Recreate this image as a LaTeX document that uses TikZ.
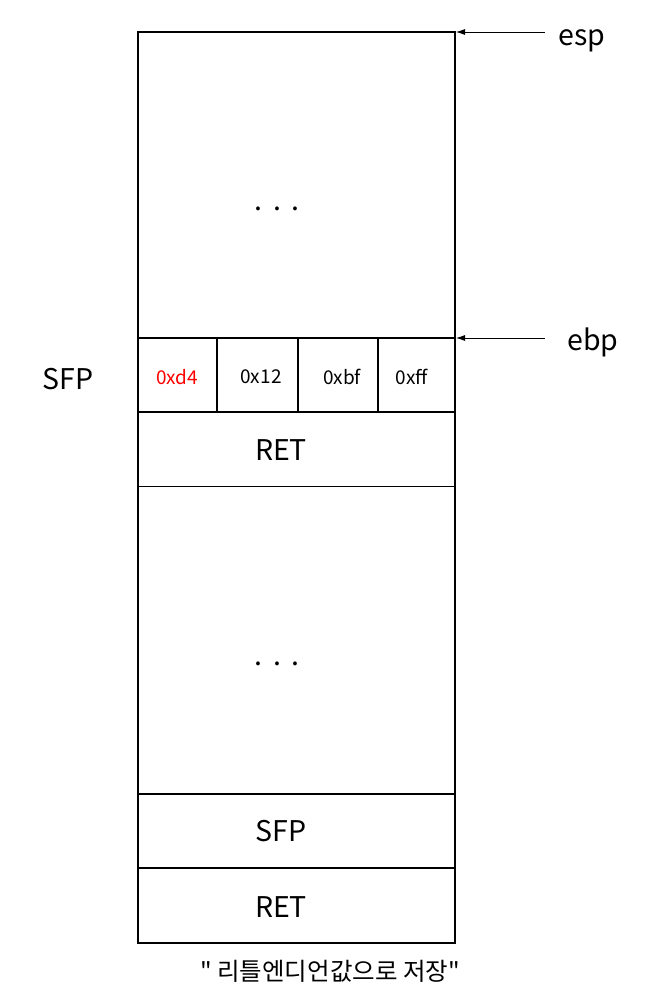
\documentclass[tikz,border=0pt]{standalone}
\usepackage{fontspec}
\setmainfont{Noto Sans CJK KR}
\newfontfamily\capfont{Noto Sans CJK KR}
\usetikzlibrary{arrows.meta}
\begin{document}
\begin{tikzpicture}[x=1pt,y=-1pt,
  box/.style={draw,line width=1.3pt,inner sep=0pt},
  big/.style={font=\fontsize{28.5}{32}\selectfont},
  small/.style={font=\fontsize{19}{22}\selectfont},
  ptr/.style={-{Latex[length=9pt,width=6pt]},line width=0.8pt}]
\useasboundingbox (0,0) rectangle (662,993);
% outer stack
\draw[box] (138,32) rectangle (455,943);
\node[box,minimum width=317pt,minimum height=74pt] (ret1) at (296.5,449.5) {};
\node[big] at (281,450) {RET};
\node[box,minimum width=317pt,minimum height=74pt] (sfp2) at (296.5,831) {};
\node[big] at (281,831) {SFP};
\node[box,minimum width=317pt,minimum height=75pt] (ret2) at (296.5,905.5) {};
\node[big] at (281,907) {RET};
% SFP bytes
\node[box,minimum width=79pt,minimum height=74pt] (c1) at (177.5,375) {};
\node[box,minimum width=81pt,minimum height=74pt] (c2) at (257.5,375) {};
\node[box,minimum width=80pt,minimum height=74pt] (c3) at (338,375) {};
\node[box,minimum width=77pt,minimum height=74pt] (c4) at (416.5,375) {};
\node[small,text=red] at (177,377) {0xd4};
\node[small] at (261,377) {0x12};
\node[small] at (342,377) {0xbf};
\node[small] at (412,377) {0xff};
% dots
\node[big] (d1) at (277,209) {.\hspace{11pt}.\hspace{11pt}.};
\node[big] (d2) at (277,664) {.\hspace{11pt}.\hspace{11pt}.};
% labels
\node[big] (sfp1) at (68,379) {SFP};
\node[big,anchor=west] (esp) at (555,41) {esp};
\node[big,anchor=west] (ebp) at (564,342) {ebp};
\coordinate (espt) at (456,32);
\coordinate (ebpt) at (456,338);
\draw[ptr] (545,32) -- (espt);
\draw[ptr] (545,338) -- (ebpt);
\node[font=\capfont\fontsize{24.5}{28}\selectfont] (cap) at (330,971) {" 리틀엔디언값으로 저장"};
\end{tikzpicture}
\end{document}
